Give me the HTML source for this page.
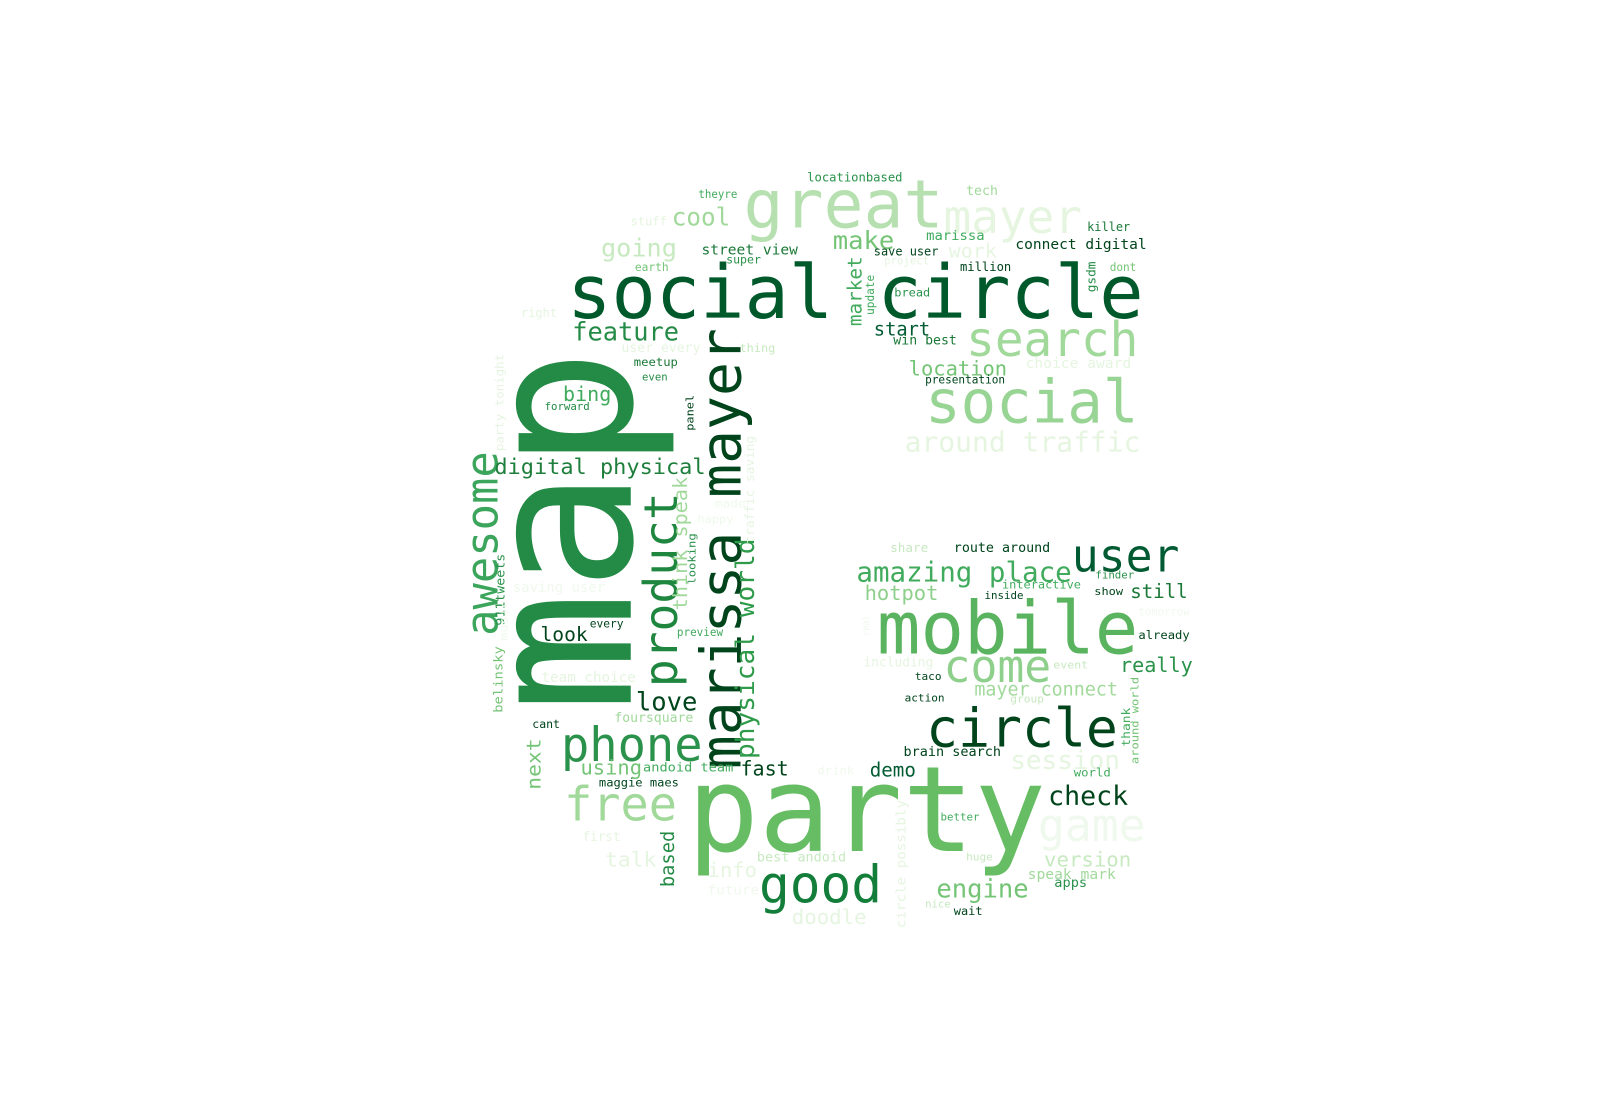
<!DOCTYPE html>
<html><head><meta charset="utf-8"><style>
html,body{margin:0;padding:0;background:#fff;width:1600px;height:1100px;overflow:hidden}
svg text{font-family:"DejaVu Sans Mono","Liberation Mono",monospace}
</style></head><body>
<svg width="1600" height="1100" viewBox="0 0 1600 1100" xmlns="http://www.w3.org/2000/svg"><g id="cloud" transform="scale(1.0256)"></g></svg>
<script>
const words=["map","party","social circle","mobile","great","mayer","search","social","around traffic","marissa mayer","product","circle","user","phone","free","good","come","game","session","check","awesome","physical world","digital physical","feature","amazing place","hotpot","still","really","mayer connect","engine","version","speak mark","apps","demo","fast","love","look","using","next","based","info","doodle","talk","bing","cool","going","make","work","street view","connect digital","start","win best","location","presentation","market","update","gsdm","save user","super","marissa","killer","tech","locationbased","theyre","stuff","earth","project","million","dont","bread","right","user every","thing","choice award","meetup","even","forward","panel","party tonight","think speak","traffic saving","looking","happy","made","911tweets","belinsky","music","saving user","every","preview","team choice","foursquare","cant","andoid team","maggie maes","first","best andoid","future","circle possibly","nice","wait","huge","better","drink","brain search","taco","action","group","event","already","finder","show","inside","interactive","route around","share","including","real","thank","around world","world","tomorrow"];
const sizes=[200,116,72,71,65,45,47,58,27,55,45,52,44,46,46,50,44,44,25,26,43,25,21,25,27,20,19,20,18,25,20,14,13,19,20,25,19,20,19,18,20,20,20,20,24,24,24,19,14,14,18,13,20,11,19,11,12,12,11,13,12,13,12,11,12,11,11,12,11,11,12,13,11,14,11,10,10,10,11,19,12.5,10,11,11,12,12,10,14,11,11,14,13,11,12,11,13,13,13,13,10,11,10,10,11,13,10,10,10,10,11,10,10,10,11,13,12,13,10,11,10,11,11];
const colors=["#238b45","#66bd63","#00592a","#5ab45f","#b6e0b0","#e5f5e0","#a1d99b","#98d594","#e5f5e0","#00441b","#1f8640","#00441b","#005a32","#2a924a","#a1d99b","#137e3a","#8ed08b","#f0f9ed","#e5f5e0","#00441b","#3ca55c","#2e9b4a","#1e7e3c","#238b45","#41ab5d","#8ed08b","#1a7837","#2a924a","#a1d99b","#74c476","#c7e9c0","#a1d99b","#2a924a","#005a32","#00441b","#00441b","#00441b","#74c476","#74c476","#238b45","#e5f5e0","#e5f5e0","#e5f5e0","#41ab5d","#a1d99b","#c7e9c0","#74c476","#e5f5e0","#1a7837","#00441b","#005a32","#1a7837","#74c476","#00441b","#41ab5d","#41ab5d","#238b45","#00441b","#2a924a","#41ab5d","#1a7837","#a1d99b","#2a924a","#41ab5d","#e5f5e0","#74c476","#e5f5e0","#00441b","#74c476","#2a924a","#e5f5e0","#e5f5e0","#c7e9c0","#e5f5e0","#1a7837","#238b45","#238b45","#00441b","#e5f5e0","#a1d99b","#e5f5e0","#2a924a","#f0f9ed","#f0f9ed","#2a924a","#74c476","#f0f9ed","#f0f9ed","#00441b","#41ab5d","#e5f5e0","#a1d99b","#00441b","#41ab5d","#00441b","#e5f5e0","#c7e9c0","#f0f9ed","#e5f5e0","#c7e9c0","#00441b","#c7e9c0","#41ab5d","#f0f9ed","#00441b","#00441b","#00441b","#c7e9c0","#c7e9c0","#00441b","#2a924a","#00441b","#00441b","#41ab5d","#00441b","#c7e9c0","#e5f5e0","#f0f9ed","#41ab5d","#74c476","#41ab5d","#f0f9ed"];
// layout: [x, baselineY, textLength, vertical]
const layout=[[615,695,355,1],[670,830,350,0],[553,310,562,0],[855,637,255,0],[725,222,195,0],[920,227,135,0],[942,347,168,0],[902,412,208,0],[882,440,230,0],[722,750,430,1],[660,670,190,1],[903,728,187,0],[1045,557,105,0],[547,742,138,0],[550,800,110,0],[740,880,120,0],[920,665,105,0],[1012,820,105,0],[985,750,107,0],[1022,785,78,0],[485,620,180,1],[735,740,215,1],[482,462,206,0],[558,332,104,0],[835,567,210,0],[843,585,72,0],[1102,583,56,0],[1092,655,71,0],[950,678,140,0],[913,875,90,0],[1018,845,85,0],[1002,857,86,0],[1028,865,32,0],[848,757,45,0],[722,756,47,0],[620,693,60,0],[527,625,46,0],[566,755,60,0],[527,770,50,1],[657,865,55,1],[690,855,48,0],[772,901,73,0],[590,845,50,0],[549,391,47,0],[655,220,57,0],[586,250,74,0],[812,243,60,0],[925,251,47,0],[684,248,94,0],[990,243,128,0],[852,327,55,0],[871,336,62,0],[886,366,96,0],[902,374,78,0],[840,318,68,1],[852,307,39,1],[1068,285,30,1],[852,249,63,0],[708,257,34,0],[903,234,57,0],[1060,225,42,0],[942,190,31,0],[787,177,93,0],[681,193,38,0],[615,220,35,0],[619,264,33,0],[862,258,44,0],[936,264,50,0],[1082,264,26,0],[872,289,35,0],[508,309,35,0],[606,343,77,0],[721,343,35,0],[1000,359,103,0],[618,357,43,0],[626,371,25,0],[531,400,44,0],[676,420,35,1],[491,440,95,1],[670,595,130,1],[735,530,105,1],[678,570,50,1],[680,510,35,0],[697,495,30,0],[492,610,70,1],[490,695,65,1],[495,625,40,1],[500,577,90,0],[575,612,33,0],[660,620,45,0],[528,665,92,0],[599,704,77,0],[519,710,27,0],[627,752,88,0],[584,767,78,0],[568,820,37,0],[738,840,87,0],[690,872,50,0],[883,905,125,1],[902,885,25,0],[930,892,28,0],[942,839,26,0],[917,800,38,0],[797,755,36,0],[881,737,95,0],[892,663,26,0],[882,684,39,0],[985,685,33,0],[1027,652,34,0],[1110,623,50,0],[1068,564,38,0],[1067,580,28,0],[960,584,38,0],[977,574,77,0],[930,538,94,0],[868,538,37,0],[842,650,68,0],[848,620,20,1],[1102,728,38,1],[1110,745,85,1],[1047,757,36,0],[1110,600,50,0]];
const g=document.getElementById('cloud');
const NS='http://www.w3.org/2000/svg';
for(let i=0;i<words.length;i++){
  const L=layout[i];
  const t=document.createElementNS(NS,'text');
  
  
  t.setAttribute('font-size',sizes[i]);
  t.setAttribute('fill',colors[i]);
  t.setAttribute('textLength',L[2]);
  t.setAttribute('lengthAdjust','spacingAndGlyphs');
  if(L[3]){
    t.setAttribute('x',0);t.setAttribute('y',0);
    t.setAttribute('transform','translate('+L[0]+','+L[1]+') rotate(-90)');
  }else{
    t.setAttribute('x',L[0]);t.setAttribute('y',L[1]);
  }
  t.textContent=words[i];
  g.appendChild(t);
}
</script>
</body></html>
